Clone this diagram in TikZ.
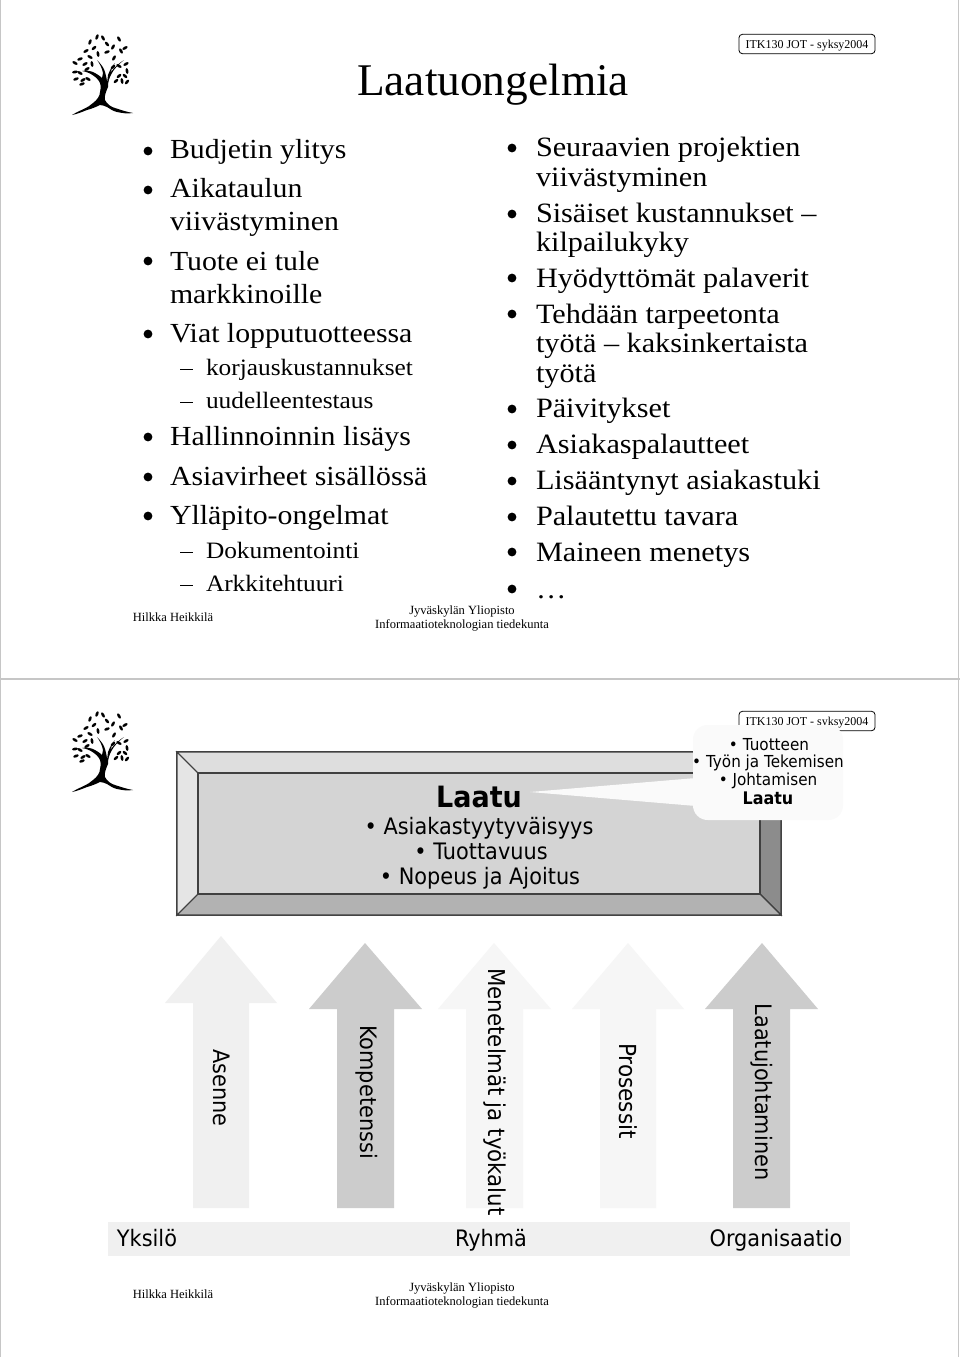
\documentclass[tikz,border=0pt]{standalone}
\usepackage{fontspec}
\setmainfont{Liberation Serif}
\newfontfamily\bodyf[FakeStretch=1.08]{Liberation Serif}
\newfontfamily\comic[FakeStretch=0.92]{DejaVu Sans}
\newcommand{\fs}[1]{\fontsize{#1}{#1}\selectfont}
\tikzset{
 x=0.75pt,y=-0.75pt,
 body/.style={anchor=base west,inner sep=0pt,outer sep=0pt,font=\bodyf\fs{21}},
 bodyl/.style={anchor=base west,inner sep=0pt,outer sep=0pt,font=\bodyf\fs{20.7}},
 sub/.style={anchor=base west,inner sep=0pt,outer sep=0pt,font=\bodyf\fs{17.6}},
 foot/.style={anchor=base,inner sep=0pt,outer sep=0pt,font=\fs{9.4}},
 tag/.style={draw=black,rounded corners=2.5pt,line width=0.6pt,minimum width=102pt,minimum height=14.5pt,inner sep=0pt,text depth=0pt,font=\fs{9}},
 dot/.style={circle,fill=black,inner sep=0pt,minimum size=6.6pt},
 subdash/.style={line width=0.7pt},
 csans/.style={anchor=base,inner sep=0pt,outer sep=0pt,font=\comic\fs{17}},
 csansr/.style={inner sep=0pt,outer sep=0pt,font=\comic\fs{17},rotate=-90},
 csansb/.style={anchor=base,inner sep=0pt,outer sep=0pt,font=\comic\bfseries\fs{22}},
 csanss/.style={anchor=base,inner sep=0pt,outer sep=0pt,font=\comic\fs{12.4}},
 leaf/.style={fill=black,draw=none},
}
\definecolor{a1}{gray}{0.94}
\definecolor{a2}{gray}{0.80}
\definecolor{a3}{gray}{0.965}
\definecolor{bubble}{gray}{0.98}
\newcommand{\treeat}[2]{%
\begin{scope}[shift={(#1,#2)}]
 \fill (-28,40) .. controls (-20,35) and (-12,33) .. (-7,28) .. controls (-3,25) and (0,21) .. (0,17) .. controls (1,12) and (1,10) .. (0,8) .. controls (-2,3) and (-10,-3) .. (-18,-4) .. controls (-14,-5) and (-10,-4) .. (-7,-3) .. controls (-3,-1) and (0,1) .. (2,3) .. controls (3,1) and (3,0) .. (3,-2) .. controls (2,-7) and (0,-11) .. (-3,-15) .. controls (1,-11) and (4,-7) .. (5,-3) .. controls (6,1) and (7,4) .. (7,8) .. controls (7,5) and (8,3) .. (8,0) .. controls (10,-5) and (12,-9) .. (15,-12) .. controls (13,-8) and (11,-5) .. (10,-2) .. controls (14,-7) and (19,-12) .. (24,-15) .. controls (18,-10) and (14,-6) .. (12,-2) .. controls (9,3) and (8,7) .. (8,12) .. controls (6,17) and (4,21) .. (5,25) .. controls (7,29) and (11,32) .. (15,33) .. controls (21,35) and (27,37) .. (33,38) .. controls (27,39) and (22,38) .. (17,37) .. controls (13,36) and (10,34) .. (7,32) .. controls (5,31) and (2,30) .. (0,30) .. controls (-4,32) and (-9,34) .. (-13,35) .. controls (-18,37) and (-23,39) .. (-28,40) -- cycle;
 \foreach \a/\b/\r in {-3/-38/70,3/-37/120,-10/-33/70,-6/-27/40,7/-31/130,13/-28/60,19/-36/120,-14/-24/30,-10/-18/150,-2/-21/100,7/-23/20,14/-17/60,21/-24/120,25/-27/30,-20/-16/20,-25/-12/150,-15/-11/30,-8/-11/100,13/-8/40,19/-9/150,26/-11/30,-25/-3/10,-20/-2/150,-13/-6/30,19/1/40,25/1/140,27/-4/100,-24/4/20,-17/5/30,-12/4/150,16/6/40,22/6/100,27/7/50,-18/9/20}
  {\fill[leaf,rotate around={\r:(\a,\b)}] (\a,\b) ellipse [x radius=2.9,y radius=1.4];}
\end{scope}}
\begin{document}
\begin{tikzpicture}
\useasboundingbox (0,0) rectangle (960,1357);
\fill[white] (0,0) rectangle (960,1357);
\draw[gray!45,line width=1pt] (0.5,0) -- (0.5,1357) (958.5,0) -- (958.5,1357) (0,679) -- (960,679);
% top slide
\treeat{100}{75}
\node[tag] (tag1) at (807,44) {ITK130 JOT - syksy2004};
\node[inner sep=0pt,font=\fs{34}] (title) at (493,85) {Laatuongelmia};
\foreach \n/\y/\t in {a/158/Budjetin ylitys,b/197/Aikataulun,b2/230/viivästyminen,c/270/Tuote ei tule,c2/303/markkinoille,d/342/Viat lopputuotteessa,e/445/Hallinnoinnin lisäys,f/485/Asiavirheet sisällössä,g/524/Ylläpito-ongelmat}
 {\node[bodyl] (l\n) at (170,\y) {\t};}
\foreach \n/\y/\t in {a/375/korjauskustannukset,b/408/uudelleentestaus,c/558/Dokumentointi,d/591/Arkkitehtuuri}
 {\node[sub] (s\n) at (206,\y) {\t}; \draw[subdash] (180,\y-6) -- (193,\y-6);}
\foreach \y in {151,190,261,334,437,477,516} {\node[dot] at (148,\y) {};}
\foreach \n/\y/\t in {a/156/Seuraavien projektien,a2/186/viivästyminen,b/222/Sisäiset kustannukset –,b2/251/kilpailukyky,c/287/Hyödyttömät palaverit,d/323/Tehdään tarpeetonta,d2/352/työtä – kaksinkertaista,d3/382/työtä,e/417/Päivitykset,f/453/Asiakaspalautteet,g/489/Lisääntynyt asiakastuki,h/525/Palautettu tavara,i/561/Maineen menetys,j/598/…}
 {\node[body] (r\n) at (536,\y) {\t};}
\foreach \y in {148,214,278,314,409,445,481,517,552,589} {\node[dot] at (512,\y) {};}
\node[foot] (fa) at (173,621) {Hilkka Heikkilä};
\node[foot] (fb) at (462,614) {Jyväskylän Yliopisto};
\node[foot] (fc) at (462,628) {Informaatioteknologian tiedekunta};
% bottom slide
\treeat{100}{752}
\node[tag] (tag2) at (807,721) {ITK130 JOT - syksy2004};
\path[fill=gray!83,draw=black!75,line width=1pt] (177,752) rectangle (781,915);
\path[fill=black!13,draw=black!75,line width=0.8pt] (177,752) -- (781,752) -- (760,773) -- (198,773) -- cycle;
\path[fill=black!10,draw=black!75,line width=0.8pt] (177,752) -- (198,773) -- (198,894) -- (177,915) -- cycle;
\path[fill=black!45,draw=black!75,line width=0.8pt] (781,752) -- (781,915) -- (760,894) -- (760,773) -- cycle;
\path[fill=black!30,draw=black!75,line width=0.8pt] (177,915) -- (198,894) -- (760,894) -- (781,915) -- cycle;
\path[fill=black!17,draw=black!75,line width=0.8pt] (198,773) rectangle (760,894);
\path[fill=bubble] (530,792) -- (696,778) -- (696,806) -- cycle;
\path[fill=bubble,rounded corners=11pt] (693,760) -- (693,725) -- (843,725) -- (843,820) -- (693,820) -- cycle;
\node[csansb] (q) at (479,807) {Laatu};
\node[csans] (q1) at (479,834) {• Asiakastyytyväisyys};
\node[csans] (q2) at (481,859) {• Tuottavuus};
\node[csans] (q3) at (480,884) {• Nopeus ja Ajoitus};
\node[csanss] (c1) at (769,750) {• Tuotteen};
\node[csanss] (c2) at (768,767) {• Työn ja Tekemisen};
\node[csanss] (c3) at (768,785) {• Johtamisen};
\node[csanss,font=\comic\bfseries\fs{13}] (c4) at (768,804) {Laatu};
% arrows
\path[fill=a1] (193,1208) -- (193,1003) -- (165,1003) -- (221,936) -- (277,1003) -- (249,1003) -- (249,1208) -- cycle;
\path[fill=a2] (337,1208) -- (337,1009) -- (309,1009) -- (365,943) -- (422,1009) -- (394,1009) -- (394,1208) -- cycle;
\path[fill=a3] (466,1208) -- (466,1009) -- (438,1009) -- (494,943) -- (551,1009) -- (523,1009) -- (523,1208) -- cycle;
\path[fill=a3] (600,1208) -- (600,1009) -- (572,1009) -- (628,943) -- (684,1009) -- (656,1009) -- (656,1208) -- cycle;
\path[fill=a2] (733,1208) -- (733,1009) -- (705,1009) -- (762,943) -- (818,1009) -- (790,1009) -- (790,1208) -- cycle;
\node[csansr] (u1) at (222,1088) {Asenne};
\node[csansr] (u2) at (367,1092) {Kompetenssi};
\node[csansr,font=\comic\fs{17.4}] (u3) at (495,1092) {Menetelmät ja työkalut};
\node[csansr,font=\comic\fs{17.6}] (u4) at (628,1091) {Prosessit};
\node[csansr] (u5) at (762,1092) {Laatujohtaminen};
\fill[a1] (108,1222) rectangle (850,1256);
\node[csans] (y1) at (147,1246) {Yksilö};
\node[csans] (y2) at (491,1246) {Ryhmä};
\node[csans] (y3) at (776,1246) {Organisaatio};
\node[foot] (ga) at (173,1298) {Hilkka Heikkilä};
\node[foot] (gb) at (462,1291) {Jyväskylän Yliopisto};
\node[foot] (gc) at (462,1305) {Informaatioteknologian tiedekunta};
\end{tikzpicture}
\end{document}
